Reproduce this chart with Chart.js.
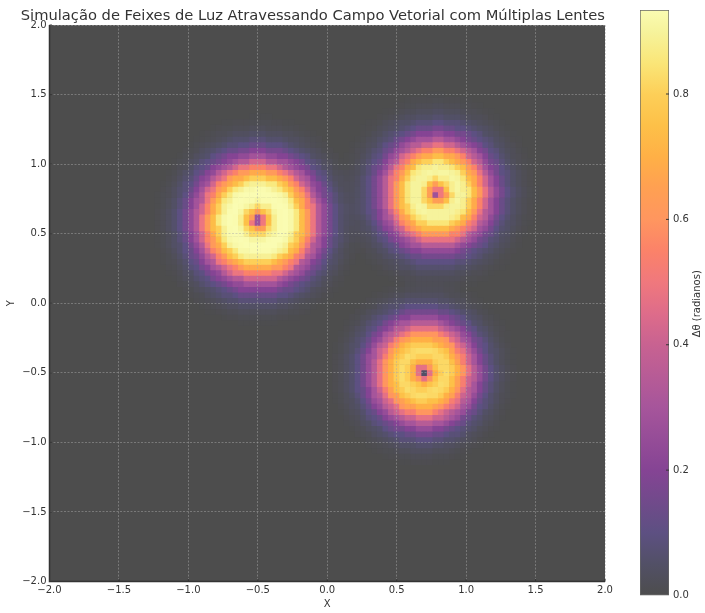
<!DOCTYPE html>
<html><head><meta charset="utf-8">
<style>
html,body{margin:0;padding:0;background:#fff;width:705px;height:613px;overflow:hidden}
canvas{position:absolute;top:0}
#main{left:0}#bar{left:630px}
</style>
<script src="https://cdn.jsdelivr.net/npm/chart.js@4"></script>
</head><body>
<canvas id="main" width="705" height="613"></canvas>
<canvas id="bar" width="75" height="613"></canvas>
<script>
const titleText = 'Simulação de Feixes de Luz Atravessando Campo Vetorial com Múltiplas Lentes';
const xAxisTitle = 'X';
const yAxisTitle = 'Y';
const colorbarTitle = 'Δθ (radianos)';
const axisTicks = [-2, -1.5, -1, -0.5, 0, 0.5, 1, 1.5, 2];
const axisTickLabels = ['−2.0', '−1.5', '−1.0', '−0.5', '0.0', '0.5', '1.0', '1.5', '2.0'];
const colorbarTicks = [0, 0.2, 0.4, 0.6, 0.8];
const colorbarTickLabels = ['0.0', '0.2', '0.4', '0.6', '0.8'];
const colorbarMax = 0.934;
const gridSize = 100;

// Lens centres, with Δθ read from it at half-cell radial steps.
const lensCenters = [[-0.5, 0.6], [0.8, 0.8], [0.7, -0.5]];
const lens1Ring = [.07,.28,.50,.64,.75,.82,.88,.91,.93,.934,.934,.93,.92,.89,.86,.80,.74,.68,.62,.55,.49,.42,.34,.29,.24,.20,.16,.13,.10,.08,.06,.047,.035,.026,.018,.012,.008,.004,0];
const lens2Ring = [.06,.28,.50,.64,.75,.82,.88,.90,.91,.90,.88,.85,.80,.74,.68,.62,.55,.48,.42,.35,.29,.24,.20,.16,.13,.10,.08,.065,.05,.04,.03,.022,.015,.01,.006,.003,0];
const lens3Ring = [.05,.26,.47,.60,.70,.76,.80,.82,.83,.82,.79,.75,.70,.65,.60,.53,.47,.41,.35,.30,.25,.20,.16,.13,.10,.08,.06,.047,.035,.026,.018,.012,.007,.003,0];
const lensRings = [lens1Ring, lens2Ring, lens3Ring];

// Colour bar: value position and colour.
const colorValues = [0, .05, .1, .2, .3, .4, .45, .5, .55, .6, .65, .7, .75, .8, .85, .9, .934];
const colorSwatches = [[77,77,77],[82,80,102],[93,80,130],[133,68,148],[166,85,155],[200,98,145],[222,108,138],[240,120,125],[251,130,105],[255,150,95],[255,160,82],[255,176,70],[253,192,72],[253,207,88],[250,230,120],[246,243,156],[250,252,178]];
const rgb = c => `rgb(${c[0]},${c[1]},${c[2]})`;
function colorOf(v) {
  v = Math.min(colorbarMax, Math.max(0, v));
  let i = 0;
  while (i < colorValues.length - 2 && v > colorValues[i + 1]) i++;
  const f = (v - colorValues[i]) / (colorValues[i + 1] - colorValues[i]);
  return rgb(colorSwatches[i].map((a, k) => Math.round(a + (colorSwatches[i + 1][k] - a) * f)));
}

const step = 4 / (gridSize - 1);
const cells = [], cellColors = [];
for (let j = 0; j < gridSize; j++) for (let i = 0; i < gridSize; i++) {
  const gx = -2 + i * step, gy = -2 + j * step;
  let v = 0;
  lensCenters.forEach((c, n) => {
    const d = Math.round(Math.hypot(gx - c[0], gy - c[1]) / step * 2);
    if (d < lensRings[n].length) v += lensRings[n][d];
  });
  if (v > 0) {
    cells.push({x: -2 + (i + 0.5) * 0.04, y: -2 + (j + 0.5) * 0.04});
    cellColors.push(colorOf(v));
  }
}

const font = {family: '"DejaVu Sans"', size: 10};
const textColor = '#333';

function axis(title) {
  return {
    type: 'linear', min: -2, max: 2,
    afterBuildTicks: s => { s.ticks = axisTicks.map(value => ({value})); },
    grid: {z: 1, color: 'rgba(170,170,170,0.6)', lineWidth: 0.8, drawTicks: false},
    border: {display: false, dash: [2, 1.5]},
    title: {display: true, text: title, color: textColor, font},
    ticks: {
      color: textColor, font, autoSkip: false, maxRotation: 0, padding: 3,
      callback: v => axisTickLabels[axisTicks.indexOf(v)]
    }
  };
}
const xAxis = axis(xAxisTitle);
xAxis.afterFit = s => { s.height = 31.5; };
xAxis.title.padding = {top: 1, bottom: 3};
const yAxis = axis(yAxisTitle);
yAxis.afterFit = s => { s.width = 49.5; };
yAxis.title.padding = {top: 5, bottom: 0};

const frame = {
  id: 'frame',
  beforeDatasetsDraw(chart) {
    const a = chart.chartArea, c = chart.ctx;
    c.save(); c.fillStyle = colorOf(0);
    c.fillRect(a.left, a.top, a.width, a.height); c.restore();
  },
  afterDraw(chart) {
    const a = chart.chartArea, c = chart.ctx;
    c.save(); c.strokeStyle = '#333'; c.lineWidth = 1; c.beginPath();
    chart.scales.x.ticks.forEach(t => {
      const p = chart.scales.x.getPixelForValue(t.value);
      c.moveTo(p, a.bottom); c.lineTo(p, a.bottom - 2.5);
    });
    chart.scales.y.ticks.forEach(t => {
      const p = chart.scales.y.getPixelForValue(t.value);
      c.moveTo(a.left, p); c.lineTo(a.left + 2.5, p);
    });
    c.stroke();
    c.strokeStyle = '#333'; c.lineWidth = 1.5; c.beginPath();
    c.moveTo(a.left, a.top); c.lineTo(a.left, a.bottom); c.lineTo(a.right, a.bottom); c.stroke();
    c.restore();
  }
};

new Chart(document.getElementById('main'), {
  type: 'scatter',
  data: {datasets: [{
    data: cells, pointStyle: 'rect', pointRadius: 4.4, pointHoverRadius: 4.4,
    pointBackgroundColor: cellColors, pointBorderWidth: 0
  }]},
  options: {
    responsive: false, animation: false, events: [],
    layout: {padding: {left: 0, right: 100, top: 0, bottom: 0}},
    plugins: {
      legend: {display: false}, tooltip: {enabled: false},
      title: {display: true, text: titleText, color: textColor, fullSize: true, align: 'end',
        font: {family: '"DejaVu Sans"', size: 14.7, weight: 'normal', lineHeight: 1.2},
        padding: {top: 7, bottom: 0.4}}
    },
    scales: {x: xAxis, y: yAxis}
  },
  plugins: [frame]
});

const barLabel = {
  id: 'barLabel',
  afterDraw(chart) {
    const a = chart.chartArea, c = chart.ctx, s = chart.scales.y;
    c.save(); c.strokeStyle = '#333'; c.lineWidth = 1; c.beginPath();
    colorbarTicks.slice(1).forEach(v => {
      const p = s.getPixelForValue(v);
      c.moveTo(a.right, p); c.lineTo(a.right - 3, p);
    });
    c.stroke();
    c.fillStyle = textColor; c.font = '10px "DejaVu Sans"';
    c.textAlign = 'center'; c.textBaseline = 'middle';
    c.translate(67, (a.top + a.bottom) / 2 + 1); c.rotate(-Math.PI / 2);
    c.fillText(colorbarTitle, 0, 0);
    c.restore();
  }
};

new Chart(document.getElementById('bar'), {
  type: 'bar',
  data: {labels: [colorbarTitle], datasets: [{
    data: [[0, colorbarMax]],
    barPercentage: 1, categoryPercentage: 1,
    borderColor: '#666', borderWidth: 1, borderSkipped: false,
    backgroundColor: ctx => {
      const a = ctx.chart.chartArea;
      if (!a) return rgb(colorSwatches[0]);
      const g = ctx.chart.ctx.createLinearGradient(0, a.bottom, 0, a.top);
      colorSwatches.forEach((c, i) => g.addColorStop(colorValues[i] / colorbarMax, rgb(c)));
      return g;
    }
  }]},
  options: {
    responsive: false, animation: false, events: [],
    layout: {padding: {left: 10, right: 0, top: 10, bottom: 17.5}},
    plugins: {legend: {display: false}, tooltip: {enabled: false}},
    scales: {
      x: {display: false},
      y: {
        position: 'right', min: 0, max: colorbarMax,
        afterBuildTicks: s => { s.ticks = colorbarTicks.map(value => ({value})); },
        afterFit: s => { s.width = 36; },
        grid: {display: false, drawTicks: false},
        border: {display: false},
        ticks: {color: textColor, font, padding: 4,
          callback: v => colorbarTickLabels[colorbarTicks.indexOf(v)]}
      }
    }
  },
  plugins: [barLabel]
});
</script>
</body></html>
